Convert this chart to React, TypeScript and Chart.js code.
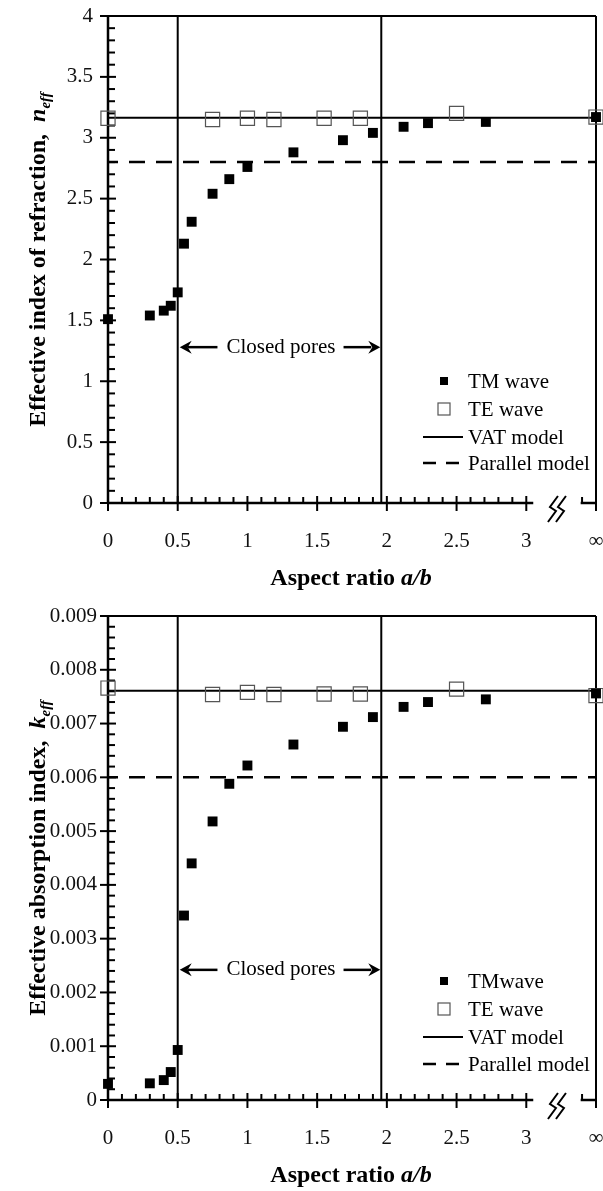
import React, { useEffect, useRef } from 'react';
import { Chart, registerables } from 'chart.js';

Chart.register(...registerables);

const SERIF = '"Liberation Serif", "Times New Roman", Times, serif';

// ---- axis data ----
const INF_X = 3.5; // position of the "∞" column on the x axis
const xTickValues = [0, 0.5, 1, 1.5, 2, 2.5, 3, 3.5];
const xTickLabels = ['0', '0.5', '1', '1.5', '2', '2.5', '3', '∞'];
const closedPoreBounds = [0.5, 1.96];

// ---- TM wave (filled squares) ----
const tmX = [0, 0.3, 0.4, 0.45, 0.5, 0.545, 0.6, 0.75, 0.87, 1.0, 1.33, 1.685, 1.9, 2.12, 2.295, 2.71, INF_X];
const tmN = [1.51, 1.54, 1.58, 1.62, 1.73, 2.13, 2.31, 2.54, 2.66, 2.76, 2.88, 2.98, 3.04, 3.09, 3.12, 3.13, 3.17];
const tmK = [0.0003, 0.00031, 0.00037, 0.00052, 0.00093, 0.00343, 0.0044, 0.00518, 0.00588, 0.00622, 0.00661, 0.00694, 0.00712, 0.00731, 0.0074, 0.00745, 0.00756];

// ---- TE wave (open squares) ----
const teX = [0, 0.75, 1.0, 1.19, 1.55, 1.81, 2.5, INF_X];
const teN = [3.16, 3.15, 3.16, 3.15, 3.16, 3.16, 3.2, 3.17];
const teK = [0.00766, 0.00754, 0.00758, 0.00754, 0.00755, 0.00755, 0.00764, 0.00752];

// ---- model lines ----
const vatN = 3.165;
const parallelN = 2.8;
const vatK = 0.00761;
const parallelK = 0.006;

type Spec = {
  height: number;
  padTop: number;
  xAxisHeight: number;
  yMax: number;
  yStep: number;
  yMinor: number;
  yDecimals: number;
  yLabelPad: number;
  tm: number[];
  te: number[];
  vat: number;
  par: number;
  tmLabel: string;
  yTitleMain: string;
  yTitleVar: string;
  annotY: number;
  legendOffsets: number[];
};

function seg(ctx: CanvasRenderingContext2D, x1: number, y1: number, x2: number, y2: number) {
  ctx.beginPath();
  ctx.moveTo(x1, y1);
  ctx.lineTo(x2, y2);
  ctx.stroke();
}

function arrowHead(ctx: CanvasRenderingContext2D, tx: number, y: number, dir: number) {
  ctx.beginPath();
  ctx.moveTo(tx, y);
  ctx.lineTo(tx - dir * 12, y - 6.5);
  ctx.lineTo(tx - dir * 8, y);
  ctx.lineTo(tx - dir * 12, y + 6.5);
  ctx.closePath();
  ctx.fill();
}

const decorPlugin = {
  id: 'decor',
  beforeDatasetsDraw(chart: any, _args: any, o: any) {
    const { ctx, chartArea: a, scales } = chart;
    const x = scales.x;
    const y = scales.y;
    ctx.save();
    ctx.strokeStyle = '#000';
    ctx.lineCap = 'butt';
    ctx.lineWidth = 2;
    seg(ctx, a.left, a.top, a.right, a.top);
    seg(ctx, a.right, a.top, a.right, a.bottom + 8);
    ctx.lineWidth = 2.5;
    seg(ctx, a.left, a.top - 1, a.left, a.bottom + 1);
    seg(ctx, a.left - 1, a.bottom, x.getPixelForValue(3.05), a.bottom);
    seg(ctx, x.getPixelForValue(3.39), a.bottom, a.right + 1, a.bottom);
    ctx.lineWidth = 2;
    for (let i = 0; i <= 30; i++) {
      const v = i / 10;
      const px = x.getPixelForValue(v);
      if (i % 5 === 0) seg(ctx, px, a.bottom - 7, px, a.bottom + 8);
      else seg(ctx, px, a.bottom, px, a.bottom - 6);
    }
    const p34 = x.getPixelForValue(3.4);
    seg(ctx, p34, a.bottom, p34, a.bottom - 6);
    const bx = x.getPixelForValue(3.22);
    const by = a.bottom + 6;
    ctx.lineWidth = 2;
    for (const dx of [-4, 4]) {
      ctx.beginPath();
      ctx.moveTo(bx + dx + 5, by - 13);
      ctx.lineTo(bx + dx - 3, by - 2);
      ctx.lineTo(bx + dx + 3, by + 2);
      ctx.lineTo(bx + dx - 5, by + 13);
      ctx.stroke();
    }
    const n = Math.round(o.yMax / o.yMinor);
    const per = Math.round(o.yStep / o.yMinor);
    for (let i = 0; i <= n; i++) {
      const v = i * o.yMinor;
      const py = y.getPixelForValue(v);
      if (i % per === 0) seg(ctx, a.left - 8, py, a.left + 8, py);
      else seg(ctx, a.left, py, a.left + 7, py);
    }
    ctx.restore();
  },
  afterDraw(chart: any, _args: any, o: any) {
    const { ctx, chartArea: a, scales } = chart;
    const x = scales.x;
    const y = scales.y;
    ctx.save();
    ctx.fillStyle = '#000';
    ctx.strokeStyle = '#000';

    const xl = x.getPixelForValue(o.bounds[0]);
    const xr = x.getPixelForValue(o.bounds[1]);
    const ay = y.getPixelForValue(o.annotY);
    ctx.font = `21px ${SERIF}`;
    ctx.textBaseline = 'middle';
    ctx.textAlign = 'center';
    const label = 'Closed pores';
    const mid = (xl + xr) / 2 + 1.5;
    const w = ctx.measureText(label).width;
    ctx.fillText(label, mid, ay);
    ctx.lineWidth = 2.5;
    seg(ctx, mid - w / 2 - 9, ay, xl + 10, ay);
    arrowHead(ctx, xl + 2, ay, -1);
    seg(ctx, mid + w / 2 + 8, ay, xr - 10, ay);
    arrowHead(ctx, xr - 1, ay, 1);

    const ds = chart.data.datasets;
    const lx = 444;
    const tx = 468;
    ctx.textAlign = 'left';
    ctx.font = `21px ${SERIF}`;
    o.legendOffsets.forEach((off: number, i: number) => {
      const d = ds[i];
      const ly = a.bottom + off;
      if (i === 0) {
        ctx.fillStyle = d.backgroundColor;
        ctx.fillRect(lx - 4, ly - 4, 8, 8);
      } else if (i === 1) {
        ctx.strokeStyle = d.borderColor;
        ctx.lineWidth = 1.2;
        ctx.strokeRect(lx - 6, ly - 6, 12, 12);
      } else {
        ctx.strokeStyle = d.borderColor;
        ctx.lineWidth = d.borderWidth;
        ctx.setLineDash(d.borderDash ? [13, 10] : []);
        seg(ctx, 423, ly, 463, ly);
        ctx.setLineDash([]);
      }
      ctx.fillStyle = '#000';
      ctx.fillText(d.label, tx, ly + 1);
    });

    ctx.textBaseline = 'alphabetic';
    const f1 = `bold 24px ${SERIF}`;
    const f2 = `italic bold 24px ${SERIF}`;
    const t1 = 'Aspect ratio ';
    const t2 = 'a/b';
    ctx.font = f1;
    const w1 = ctx.measureText(t1).width;
    ctx.font = f2;
    const w2 = ctx.measureText(t2).width;
    const cx = (a.left + a.right) / 2 - 1;
    const bl = a.bottom + 82;
    ctx.font = f1;
    ctx.fillText(t1, cx - (w1 + w2) / 2, bl);
    ctx.font = f2;
    ctx.fillText(t2, cx - (w1 + w2) / 2 + w1, bl);

    const fs = `italic bold 15px ${SERIF}`;
    ctx.font = f1;
    const m1 = ctx.measureText(o.yTitleMain).width;
    ctx.font = f2;
    const m2 = ctx.measureText(o.yTitleVar).width;
    ctx.font = fs;
    const m3 = ctx.measureText('eff').width;
    const total = m1 + m2 + m3;
    ctx.translate(45, (a.top + a.bottom) / 2);
    ctx.rotate(-Math.PI / 2);
    let px = -total / 2;
    ctx.font = f1;
    ctx.fillText(o.yTitleMain, px, 0);
    px += m1;
    ctx.font = f2;
    ctx.fillText(o.yTitleVar, px, 0);
    px += m2;
    ctx.font = fs;
    ctx.fillText('eff', px, 5);
    ctx.restore();
  },
};

function buildConfig(s: Spec): any {
  const datasets: any[] = [
    {
      label: s.tmLabel,
      data: tmX.map((x, i) => ({ x, y: s.tm[i] })),
      pointStyle: 'rect',
      pointRadius: 7,
      pointHoverRadius: 7,
      backgroundColor: '#000',
      borderColor: '#000',
      borderWidth: 0,
      showLine: false,
      clip: false,
      order: 0,
    },
    {
      label: 'TE wave',
      data: teX.map((x, i) => ({ x, y: s.te[i] })),
      pointStyle: 'rect',
      pointRadius: 10,
      pointHoverRadius: 10,
      backgroundColor: 'rgba(255,255,255,0)',
      borderColor: '#555',
      borderWidth: 1.2,
      showLine: false,
      clip: false,
      order: 1,
    },
    {
      label: 'VAT model',
      data: [{ x: 0, y: s.vat }, { x: INF_X, y: s.vat }],
      showLine: true,
      borderColor: '#000',
      borderWidth: 2,
      pointRadius: 0,
      clip: false,
      order: 2,
    },
    {
      label: 'Parallel model',
      data: [{ x: 0, y: s.par }, { x: INF_X, y: s.par }],
      showLine: true,
      borderColor: '#000',
      borderWidth: 2.5,
      borderDash: [16, 11],
      borderDashOffset: 6,
      pointRadius: 0,
      clip: false,
      order: 3,
    },
    ...closedPoreBounds.map((b, i) => ({
      label: 'bound' + i,
      data: [{ x: b, y: 0 }, { x: b, y: s.yMax }],
      showLine: true,
      borderColor: '#000',
      borderWidth: 2,
      pointRadius: 0,
      clip: false,
      order: 4,
    })),
  ];
  return {
    type: 'scatter',
    data: { datasets },
    plugins: [decorPlugin],
    options: {
      animation: false,
      responsive: false,
      devicePixelRatio: 1,
      events: [],
      layout: { autoPadding: false, padding: { top: s.padTop, right: 7, left: 0, bottom: 0 } },
      plugins: {
        legend: { display: false },
        tooltip: { enabled: false },
        title: { display: false },
        decor: {
          yMax: s.yMax,
          yStep: s.yStep,
          yMinor: s.yMinor,
          bounds: closedPoreBounds,
          annotY: s.annotY,
          legendOffsets: s.legendOffsets,
          yTitleMain: s.yTitleMain,
          yTitleVar: s.yTitleVar,
        },
      },
      scales: {
        x: {
          type: 'linear',
          min: 0,
          max: INF_X,
          afterFit: (sc: any) => {
            sc.height = s.xAxisHeight;
            sc.paddingLeft = 0;
            sc.paddingRight = 0;
          },
          afterBuildTicks: (sc: any) => {
            sc.ticks = xTickValues.map((v) => ({ value: v }));
          },
          grid: { display: false, drawTicks: false },
          border: { display: false },
          ticks: {
            autoSkip: false,
            maxRotation: 0,
            minRotation: 0,
            padding: 26,
            color: '#111',
            font: { family: SERIF, size: 21 },
            callback: (v: number) => {
              const i = xTickValues.findIndex((t) => Math.abs(t - v) < 1e-9);
              return i >= 0 ? xTickLabels[i] : '';
            },
          },
        },
        y: {
          type: 'linear',
          min: 0,
          max: s.yMax,
          afterFit: (sc: any) => {
            sc.width = 108;
            sc.paddingTop = 0;
            sc.paddingBottom = 0;
          },
          grid: { display: false, drawTicks: false },
          border: { display: false },
          ticks: {
            stepSize: s.yStep,
            autoSkip: false,
            padding: s.yLabelPad,
            color: '#111',
            font: { family: SERIF, size: 21 },
            callback: (v: number) => (Math.abs(v) < 1e-12 ? '0' : Number(v).toFixed(s.yDecimals).replace(/\.0$/, '')),
          },
        },
      },
    },
  };
}

const topSpec: Spec = {
  height: 596,
  padTop: 16,
  xAxisHeight: 93,
  yMax: 4,
  yStep: 0.5,
  yMinor: 0.1,
  yDecimals: 1,
  yLabelPad: 15,
  tm: tmN,
  te: teN,
  vat: vatN,
  par: parallelN,
  tmLabel: 'TM wave',
  yTitleMain: 'Effective index of refraction,  ',
  yTitleVar: 'n',
  annotY: 1.28,
  legendOffsets: [-122, -94, -66, -40],
};

const bottomSpec: Spec = {
  height: 595,
  padTop: 20,
  xAxisHeight: 91,
  yMax: 0.009,
  yStep: 0.001,
  yMinor: 0.0002,
  yDecimals: 3,
  yLabelPad: 11,
  tm: tmK,
  te: teK,
  vat: vatK,
  par: parallelK,
  tmLabel: 'TMwave',
  yTitleMain: 'Effective absorption index,  ',
  yTitleVar: 'k',
  annotY: 0.00242,
  legendOffsets: [-119, -91, -63, -36],
};

function Panel({ spec }: { spec: Spec }) {
  const ref = useRef<HTMLCanvasElement>(null);
  useEffect(() => {
    const chart = new Chart(ref.current as HTMLCanvasElement, buildConfig(spec));
    return () => chart.destroy();
  }, [spec]);
  return (
    <div style={{ width: 603, height: spec.height }}>
      <canvas ref={ref} width={603} height={spec.height} style={{ display: 'block', width: 603, height: spec.height }} />
    </div>
  );
}

export default function App() {
  return (
    <div style={{ position: 'absolute', left: 0, top: 0, width: 603, height: 1191, background: '#fff' }}>
      <Panel spec={topSpec} />
      <Panel spec={bottomSpec} />
    </div>
  );
}
